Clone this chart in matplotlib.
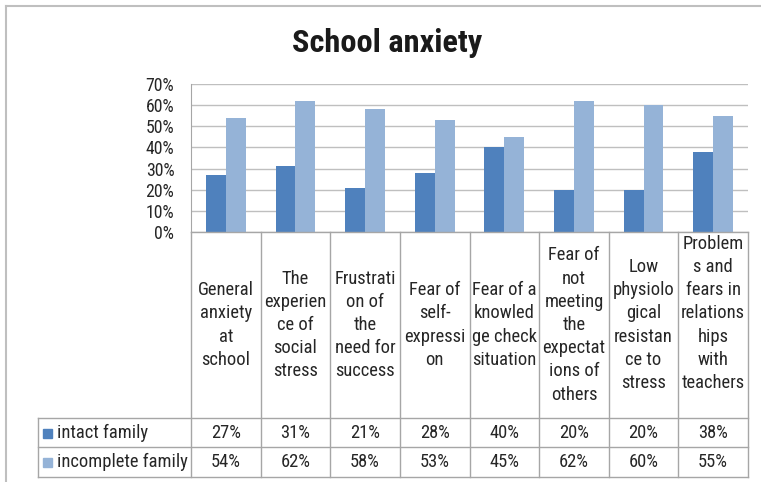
import matplotlib
matplotlib.use("Agg")
import matplotlib.pyplot as plt
from matplotlib.lines import Line2D
from matplotlib.patches import Rectangle
from matplotlib.transforms import blended_transform_factory

FONTS = ['Roboto Condensed', 'Lato', 'DejaVu Sans']
plt.rcParams['font.family'] = FONTS

title = "School anxiety"
categories = [
    "General\nanxiety\nat\nschool",
    "The\nexperien\nce of\nsocial\nstress",
    "Frustrati\non of\nthe\nneed for\nsuccess",
    "Fear of\nself-\nexpressi\non",
    "Fear of a\nknowled\nge check\nsituation",
    "Fear of\nnot\nmeeting\nthe\nexpectat\nions of\nothers",
    "Low\nphysiolo\ngical\nresistan\nce to\nstress",
    "Problem\ns and\nfears in\nrelations\nhips\nwith\nteachers\n ",
]
series_names = ["intact family", "incomplete family"]
intact = [27, 31, 21, 28, 40, 20, 20, 38]
incomplete = [54, 62, 58, 53, 45, 62, 60, 55]
yticks = [0, 10, 20, 30, 40, 50, 60, 70]
colors = ["#4F81BD", "#95B3D7"]

W, H = 761, 482
fig = plt.figure(figsize=(W / 100, H / 100), dpi=100)

def fx(px):
    return px / W

def fy(py):
    return 1 - py / H

ax_left, ax_right, ax_top, ax_bot = 191, 748, 84, 232
ax = fig.add_axes([fx(ax_left), fy(ax_bot), fx(ax_right) - fx(ax_left), fy(ax_top) - fy(ax_bot)])

n = len(categories)
bw = 0.286
xs = list(range(n))
ax.bar([x - bw / 2 for x in xs], intact, width=bw, color=colors[0], zorder=3)
ax.bar([x + bw / 2 for x in xs], incomplete, width=bw, color=colors[1], zorder=3)
ax.set_xlim(-0.5, n - 0.5)
ax.set_ylim(0, 70)
ax.set_yticks(yticks)
ax.set_yticklabels([f"{v}%" for v in yticks], fontsize=12.8, color="#262626")
ax.set_xticks([])
ax.tick_params(axis='y', length=0, pad=12)
ax.yaxis.grid(True, color="#BFBFBF", linewidth=1, zorder=0)
for s in ["top", "right", "bottom"]:
    ax.spines[s].set_visible(False)
ax.spines["left"].set_color("#A6A6A6")

fig.text(fx(387), fy(52), title, ha="center", va="baseline", fontsize=23.3,
         fontweight="bold", color="#1a1a1a")

# outer frame
fig.add_artist(Line2D([fx(6), fx(6)], [fy(6), 0], color="#BFBFBF", lw=1.5, transform=fig.transFigure))
fig.add_artist(Line2D([fx(6), 1], [fy(6), fy(6)], color="#BFBFBF", lw=1.5, transform=fig.transFigure))

# data table
lc = "#A6A6A6"
tbl_left = 38
r_top, r1, r2, r3 = 232, 418, 447, 477
bt = blended_transform_factory(ax.transData, fig.transFigure)

def hline(x0, x1, y):
    fig.add_artist(Line2D([fx(x0), fx(x1)], [fy(y), fy(y)], color=lc, lw=1, transform=fig.transFigure))

def vline(x, y0, y1):
    fig.add_artist(Line2D([fx(x), fx(x)], [fy(y0), fy(y1)], color=lc, lw=1, transform=fig.transFigure))

hline(ax_left, ax_right, r_top)
hline(tbl_left, ax_right, r1)
hline(tbl_left, ax_right, r2)
hline(tbl_left, ax_right, r3)
vline(tbl_left, r1, r3)
for i in range(n + 1):
    x = ax_left + (ax_right - ax_left) * i / n
    vline(x, r_top, r3)

fs = 13.3
for i, cat in enumerate(categories):
    fig.text(i, fy((r_top + r1) / 2), cat, transform=bt, ha="center", va="center",
             fontsize=fs, color="#262626", linespacing=1.37)

for row, (name, vals, col) in enumerate(zip(series_names, [intact, incomplete], colors)):
    yc = [(r1 + r2) / 2, (r2 + r3) / 2][row]
    fig.add_artist(Rectangle((fx(43), fy(yc + 5)), fx(9), 9 / H, color=col, transform=fig.transFigure))
    fig.text(fx(57), fy(yc), name, ha="left", va="center", fontsize=fs, color="#262626")
    for i, v in enumerate(vals):
        fig.text(i, fy(yc), f"{v}%", transform=bt, ha="center", va="center", fontsize=fs, color="#262626")

fig.savefig("out.png", dpi=100)
